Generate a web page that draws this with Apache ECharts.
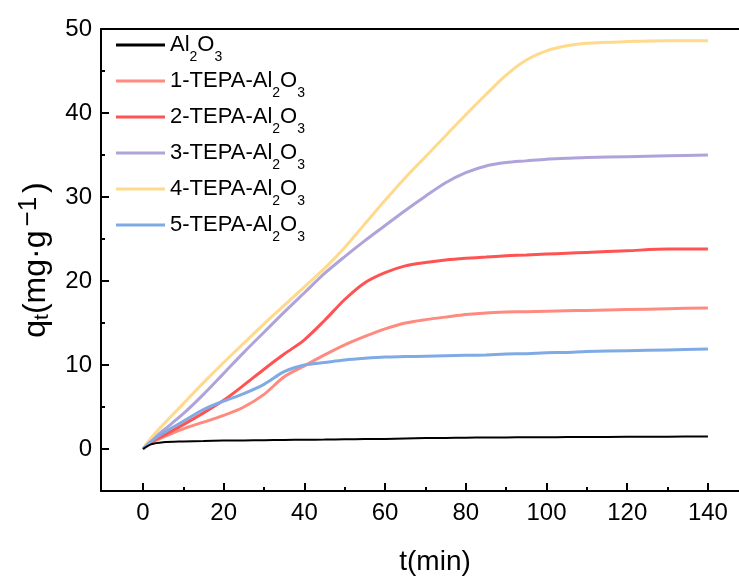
<!DOCTYPE html>
<html><head><meta charset="utf-8">
<script src="https://cdn.jsdelivr.net/npm/echarts@6/dist/echarts.min.js"></script>
<style>html,body{margin:0;padding:0;background:#fff}#c{width:739px;height:576px}</style>
</head><body><div id="c"></div>
<script>
var times = [0,2,5,10,15,20,25,30,35,40,45,50,55,60,65,70,75,80,85,90,95,100,105,110,120,130,140];
var seriesNames = ['Al2O3','1-TEPA-Al2O3','2-TEPA-Al2O3','3-TEPA-Al2O3','4-TEPA-Al2O3','5-TEPA-Al2O3'];
var al2o3 = [0,0.55,0.8,0.9,0.95,1.0,1.02,1.05,1.08,1.1,1.12,1.15,1.18,1.2,1.25,1.3,1.32,1.35,1.37,1.38,1.4,1.4,1.42,1.43,1.45,1.47,1.5];
var tepa1 = [0,0.7,1.4,2.4,3.2,4.0,5.0,6.5,8.6,9.9,11.2,12.4,13.4,14.3,15.0,15.4,15.7,16.0,16.2,16.3,16.35,16.4,16.45,16.5,16.6,16.7,16.8];
var tepa2 = [0,0.8,1.6,2.9,4.3,5.8,7.6,9.5,11.3,13.0,15.3,17.8,19.8,21.0,21.8,22.2,22.5,22.7,22.85,23.0,23.1,23.2,23.3,23.4,23.6,23.8,23.8];
var tepa3 = [0,1.0,2.2,4.2,6.5,9.0,11.5,13.9,16.3,18.6,20.9,22.9,24.8,26.6,28.4,30.1,31.7,32.9,33.7,34.1,34.3,34.5,34.6,34.7,34.8,34.9,35.0];
var tepa4 = [0,1.3,2.9,5.4,7.9,10.3,12.6,14.9,17.1,19.3,21.5,24.0,26.8,29.6,32.3,34.8,37.3,39.8,42.2,44.5,46.3,47.4,48.0,48.3,48.5,48.6,48.6];
var tepa5 = [0,0.9,1.9,3.3,4.7,5.7,6.6,7.7,9.2,10.0,10.3,10.6,10.8,10.95,11.0,11.05,11.1,11.15,11.2,11.3,11.35,11.45,11.5,11.6,11.7,11.8,11.9];
var xTicks = [0,20,40,60,80,100,120,140];
var xMinorTicks = [10,30,50,70,90,110,130];
var yTicks = [0,10,20,30,40,50];
var yMinorTicks = [5,15,25,35,45];

var values = [al2o3, tepa1, tepa2, tepa3, tepa4, tepa5];
var colors = ['#000000','#FF8A80','#FF5353','#AFA3DA','#FFD98C','#7FAAE3'];
var widths = [2,3,3,3,3,3];
var font = 'Arial, "Liberation Sans", sans-serif';

function pairs(v){ return times.map(function(t,i){ return [t, v[i]]; }); }

var series = seriesNames.map(function(n, i){
  return {
    name: n, type: 'line', symbol: 'none', smooth: 0.3,
    xAxisIndex: 0, yAxisIndex: 0,
    data: pairs(values[i]),
    lineStyle: {color: colors[i], width: widths[i]},
    itemStyle: {color: colors[i]},
    z: i === 0 ? 10 : 2
  };
});

var XMIN = -10.4, XMAX = 147.7, YMIN = -5, YMAX = 50;
var tickStyle = {color: '#000', width: 2};

var chart = echarts.init(document.getElementById('c'), null, {renderer: 'canvas'});
chart.setOption({
  animation: false,
  backgroundColor: '#fff',
  grid: {left: 101, top: 29, right: 0, bottom: 85, show: false, containLabel: false, outerBoundsMode: 'none'},
  legend: {
    orient: 'vertical', left: 116, top: 33, padding: 0, itemWidth: 49, itemHeight: 3, itemGap: 5,
    icon: 'rect',
    data: seriesNames,
    formatter: function(n){ return n.replace('Al2O3', 'Al{s|2}O{s|3}'); },
    textStyle: {fontFamily: font, fontSize: 22, color: '#000', lineHeight: 24,
      rich: {s: {fontFamily: font, fontSize: 14, color: '#000', verticalAlign: 'bottom', lineHeight: 14, padding: [0,0,-7,0]}}}
  },
  xAxis: [{
    type: 'value', min: XMIN, max: XMAX,
    name: 't(min)', nameLocation: 'middle', nameGap: 57,
    nameTextStyle: {fontFamily: font, fontSize: 28, color: '#000', padding: [0,0,0,30]},
    axisLine: {show: true, onZero: false, lineStyle: {color: '#000', width: 2}},
    axisTick: {show: true, inside: true, length: 8, lineStyle: tickStyle, customValues: xTicks},
    axisLabel: {fontFamily: font, fontSize: 24, color: '#000', margin: 10, customValues: xTicks},
    splitLine: {show: false}
  }, {
    type: 'value', min: XMIN, max: XMAX, position: 'bottom',
    axisLine: {show: false, onZero: false},
    axisTick: {show: true, inside: true, length: 4, lineStyle: tickStyle, customValues: xMinorTicks},
    axisLabel: {show: false},
    splitLine: {show: false}
  }, {
    type: 'value', min: XMIN, max: XMAX, position: 'top',
    axisLine: {show: true, onZero: false, lineStyle: {color: '#000', width: 2}},
    axisTick: {show: false}, axisLabel: {show: false}, splitLine: {show: false}
  }],
  yAxis: [{
    type: 'value', min: YMIN, max: YMAX,
    name: 'q{s|t}(mg·g{p|−1})', nameLocation: 'middle', nameGap: 44, nameRotate: 90,
    nameTextStyle: {fontFamily: font, fontSize: 32, color: '#000',
      rich: {s: {fontFamily: font, fontSize: 21, color: '#000', padding: [0,0,-12,0]},
             p: {fontFamily: font, fontSize: 26, color: '#000', padding: [0,4,15,4]}}},
    axisLine: {show: true, onZero: false, lineStyle: {color: '#000', width: 2}},
    axisTick: {show: true, inside: true, length: 8, lineStyle: tickStyle, customValues: yTicks},
    axisLabel: {fontFamily: font, fontSize: 24, color: '#000', margin: 9, customValues: yTicks},
    splitLine: {show: false}
  }, {
    type: 'value', min: YMIN, max: YMAX, position: 'left',
    axisLine: {show: false, onZero: false},
    axisTick: {show: true, inside: true, length: 4, lineStyle: tickStyle, customValues: yMinorTicks},
    axisLabel: {show: false},
    splitLine: {show: false}
  }],
  series: series
});
</script>
</body></html>
